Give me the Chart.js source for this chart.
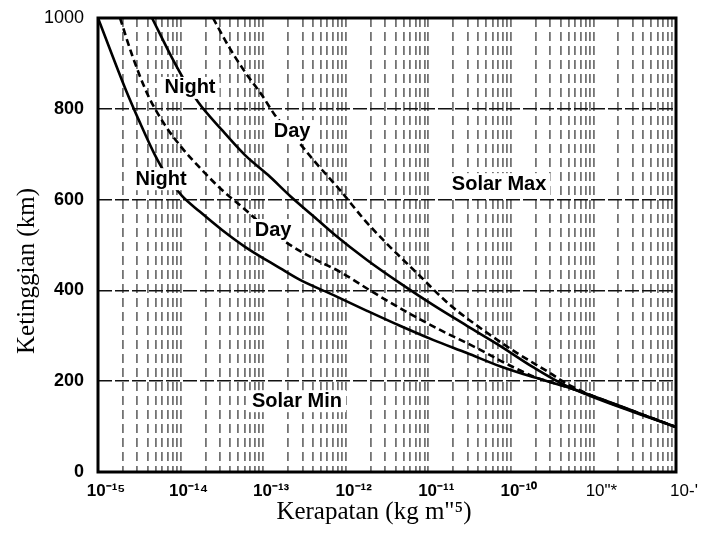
<!DOCTYPE html>
<html>
<head>
<meta charset="utf-8">
<script src="https://cdn.jsdelivr.net/npm/chart.js@4"></script>
<style>
  html, body { margin: 0; background: #fff; }
  canvas { display: block; }
</style>
</head>
<body>
<canvas id="chart" width="702" height="549"></canvas>
<script>
// density (kg m^-3) against altitude (km)
const minNightRho = [1e-15, 1.48e-15, 2.18e-15, 3.23e-15, 4.9e-15, 7.04e-15, 1.04e-14, 1.72e-14, 3.18e-14, 6.03e-14, 1.6e-13, 2.8e-13, 7.02e-13, 1.81e-12, 4.54e-12, 1.14e-11, 2.94e-11, 7.39e-11, 1.86e-10, 4.79e-10, 1e-8];
const minNightAlt = [1000, 919, 841, 769, 698, 648, 608, 573, 533, 496, 449, 423, 390, 355, 322, 291, 262, 233, 209, 187, 99];

const minDayRho = [1.85e-15, 2.58e-15, 4.03e-15, 6.48e-15, 1.04e-14, 1.82e-14, 3.18e-14, 5.55e-14, 1.05e-13, 2.3e-13, 4.88e-13, 8.53e-13, 2.14e-12, 5.53e-12, 1.39e-11, 3.68e-11, 8.5e-11, 1.96e-10, 4.79e-10, 1e-8];
const minDayAlt = [1000, 919, 830, 764, 714, 665, 621, 584, 540, 496, 463, 441, 396, 352, 313, 275, 240, 209, 187, 99];

const maxNightRho = [4.51e-15, 7.88e-15, 1.07e-14, 1.63e-14, 3.18e-14, 6.03e-14, 1.15e-13, 2.12e-13, 3.91e-13, 7.42e-13, 1.81e-12, 4.54e-12, 1.14e-11, 2.94e-11, 7.39e-11, 1.86e-10, 4.79e-10, 1e-8];
const maxNightAlt = [1000, 912, 868, 815, 753, 698, 654, 608, 566, 522, 467, 416, 368, 322, 278, 231, 189, 99];

const maxDayRho = [2.47e-14, 3.75e-14, 6.03e-14, 9.69e-14, 1.39e-13, 2.57e-13, 4.25e-13, 8.53e-13, 1.62e-12, 2.99e-12, 7.3e-12, 1.83e-11, 4.6e-11, 1.19e-10, 2.98e-10, 4.79e-10, 1e-8];
const maxDayAlt = [1000, 940, 881, 830, 786, 731, 683, 621, 559, 507, 438, 368, 313, 262, 218, 194, 99];

// axes
const decadeTicks = [1e-15, 1e-14, 1e-13, 1e-12, 1e-11, 1e-10, 1e-9, 1e-8];
const decadeLabels = ['10⁻¹⁵', '10⁻¹⁴', '10⁻¹³', '10⁻¹²', '10⁻¹¹', '10⁻¹⁰', '10"*', "10-'"];
const boldDecades = [true, true, true, true, true, true, false, false];
const minorSteps = [2, 3, 4, 5, 6, 7, 8, 9];
const altTicks = [0, 200, 400, 600, 800, 1000];

// curve captions
const notes = ['Night', 'Day', 'Night', 'Day', 'Solar Max', 'Solar Min'];
const noteRho = [1.3e-14, 2.24e-13, 5.8e-15, 1.32e-13, 7.2e-11, 2.57e-13];
const noteAlt = [846, 751, 645, 533, 634, 156];

const yTitle = 'Ketinggian (km)';
const xTitle = 'Kerapatan (kg m"⁵)';

Chart.defaults.font.family = '"Liberation Sans", Arial, sans-serif';
Chart.defaults.color = '#000';

const pts = (xs, ys) => xs.map((x, i) => ({ x: x, y: ys[i] }));

function decadeIndex(v) {
  return decadeTicks.findIndex(d => Math.abs(Math.log10(v) - Math.log10(d)) < 1e-6);
}

const lineBase = {
  borderColor: '#000',
  borderWidth: 2.6,
  pointRadius: 0,
  fill: false,
  cubicInterpolationMode: 'monotone'
};

const extras = {
  id: 'extras',
  afterDatasetsDraw(chart) {
    const ctx = chart.ctx;
    const xs = chart.scales.x, ys = chart.scales.y;
    ctx.save();
    ctx.font = 'bold 20px "Liberation Sans", Arial, sans-serif';
    ctx.textAlign = 'center';
    ctx.textBaseline = 'middle';
    notes.forEach((t, i) => {
      const px = xs.getPixelForValue(noteRho[i]);
      const py = ys.getPixelForValue(noteAlt[i]);
      const w = ctx.measureText(t).width;
      ctx.fillStyle = '#fff';
      ctx.fillRect(px - w / 2 - 4, py - 11, w + 8, 22);
      ctx.fillStyle = '#000';
      ctx.fillText(t, px, py);
    });
    ctx.restore();
  },
  afterDraw(chart) {
    const ctx = chart.ctx;
    const a = chart.chartArea;
    ctx.save();
    ctx.lineWidth = 3;
    ctx.strokeStyle = '#000';
    ctx.strokeRect(a.left, a.top, a.right - a.left, a.bottom - a.top);

    ctx.fillStyle = '#000';
    ctx.font = '25px "Liberation Serif", "Times New Roman", serif';
    ctx.textAlign = 'center';
    ctx.textBaseline = 'middle';
    ctx.fillText(xTitle, 374, 512);
    ctx.translate(27, 271);
    ctx.rotate(-Math.PI / 2);
    ctx.fillText(yTitle, 0, 0);
    ctx.restore();
  }
};

new Chart(document.getElementById('chart'), {
  type: 'line',
  data: {
    datasets: [
      Object.assign({ label: 'Solar Min Night', data: pts(minNightRho, minNightAlt) }, lineBase),
      Object.assign({ label: 'Solar Min Day', data: pts(minDayRho, minDayAlt), borderDash: [7, 4] }, lineBase),
      Object.assign({ label: 'Solar Max Night', data: pts(maxNightRho, maxNightAlt) }, lineBase),
      Object.assign({ label: 'Solar Max Day', data: pts(maxDayRho, maxDayAlt), borderDash: [7, 4] }, lineBase)
    ]
  },
  options: {
    responsive: false,
    animation: false,
    layout: { padding: { top: 18, right: 26, left: 0, bottom: 0 } },
    plugins: { legend: { display: false }, tooltip: { enabled: false } },
    scales: {
      x: {
        type: 'logarithmic',
        min: 1e-15,
        max: 1e-8,
        afterBuildTicks(scale) {
          const list = [];
          decadeTicks.forEach((d, i) => {
            list.push({ value: d });
            if (i < decadeTicks.length - 1) minorSteps.forEach(m => list.push({ value: d * m }));
          });
          scale.ticks = list;
        },
        afterFit(scale) {
          scale.height = 77;
          scale.paddingLeft = 0;
          scale.paddingRight = 0;
        },
        grid: {
          drawTicks: false,
          color: 'rgba(0,0,0,0.55)',
          lineWidth: 1.8
        },
        border: { display: false, dash: [9, 5] },
        ticks: {
          autoSkip: false,
          maxRotation: 0,
          padding: 9,
          labelOffset: 8,
          callback: v => {
            const i = decadeIndex(v);
            return i >= 0 ? decadeLabels[i] : '';
          },
          font: ctx => {
            const i = ctx.tick ? decadeIndex(ctx.tick.value) : -1;
            return (i >= 0 && boldDecades[i]) ? { size: 17, weight: 'bold' } : { size: 17, weight: 'normal' };
          }
        }
      },
      y: {
        type: 'linear',
        min: 0,
        max: 1000,
        afterBuildTicks(scale) {
          scale.ticks = altTicks.map(v => ({ value: v }));
        },
        afterFit(scale) {
          scale.width = 98;
          scale.paddingTop = 0;
          scale.paddingBottom = 0;
        },
        grid: {
          drawTicks: false,
          color: ctx => (ctx.tick && (ctx.tick.value === 0 || ctx.tick.value === 1000)) ? 'rgba(0,0,0,0)' : '#111',
          lineWidth: 1.6
        },
        border: { display: false, dash: [14, 3] },
        ticks: {
          padding: 14,
          callback: v => String(v),
          font: ctx => (ctx.tick && ctx.tick.value === 1000) ? { size: 18, weight: 'normal' } : { size: 18, weight: 'bold' }
        }
      }
    }
  },
  plugins: [extras]
});
</script>
</body>
</html>
